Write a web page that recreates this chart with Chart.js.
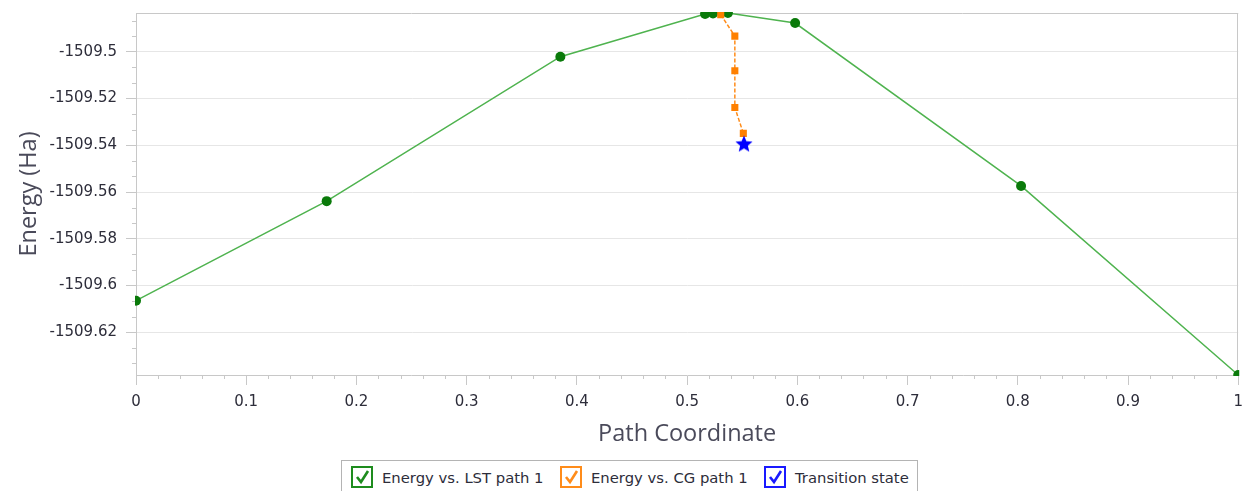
<!DOCTYPE html>
<html>
<head>
<meta charset="utf-8">
<script src="https://cdn.jsdelivr.net/npm/chart.js@4.4.0/dist/chart.umd.min.js"></script>
<style>
    body { margin: 0; background: #fff; }
    #wrap { position: relative; width: 1243px; height: 491px; overflow: hidden; }
    #legend { position: absolute; left: 341px; top: 460px; width: 575px; height: 40px; border: 1px solid #b4b4b4; background: #fff; }
    .item { position: absolute; top: 5px; height: 22px; display: flex; align-items: center; font-family: "DejaVu Sans", sans-serif; font-size: 14.8px; color: #2d2d3a; white-space: nowrap; }
    .box { width: 18px; height: 18px; border: 2px solid; margin-right: 9px; background: #fff; }
    .box svg { display: block; }
</style>
</head>
<body>
<div id="wrap">
    <canvas id="energyChart" width="1251" height="491"></canvas>
    <div id="legend"></div>
</div>
<script>
// LST path
const lstX = [0, 0.173, 0.385, 0.5163, 0.5235, 0.537, 0.598, 0.803, 1];
const lstE = [-1509.6065, -1509.5639, -1509.5021, -1509.4838, -1509.4836, -1509.4834, -1509.4877, -1509.5574, -1509.6383];
// CG path
const cgX = [0.5305, 0.5433, 0.5433, 0.5433, 0.551];
const cgE = [-1509.4841, -1509.4933, -1509.5081, -1509.5238, -1509.5349];
// transition state
const tsX = [0.5516];
const tsE = [-1509.5392];

const xTicks = [0, 0.1, 0.2, 0.3, 0.4, 0.5, 0.6, 0.7, 0.8, 0.9, 1];
const yTicks = [-1509.62, -1509.6, -1509.58, -1509.56, -1509.54, -1509.52, -1509.5];

const legendItems = [
    { label: 'Energy vs. LST path 1', color: '#1e8c1e', left: 9 },
    { label: 'Energy vs. CG path 1', color: '#ff8c1a', left: 218 },
    { label: 'Transition state', color: '#1a1aff', left: 422 }
];

function toPoints(xs, ys) { return xs.map((x, i) => ({ x: x, y: ys[i] })); }

function starImage(size, color) {
    const c = document.createElement('canvas');
    c.width = size; c.height = size;
    const g = c.getContext('2d');
    const cx = size / 2, cy = size / 2 + 1, R = size / 2, r = R * 0.45;
    g.beginPath();
    for (let i = 0; i < 10; i++) {
        const a = -Math.PI / 2 + i * Math.PI / 5;
        const rad = i % 2 ? r : R;
        g.lineTo(cx + rad * Math.cos(a), cy + rad * Math.sin(a));
    }
    g.closePath();
    g.fillStyle = color;
    g.fill();
    return c;
}

const fmt = v => String(Number(v.toFixed(3)));

// minor ticks + frame round the plot
const minorTicks = {
    id: 'minorTicks',
    beforeDatasetsDraw(chart) {
        const ctx = chart.ctx, a = chart.chartArea;
        const xs = chart.scales.x, ys = chart.scales.y;
        ctx.save();
        ctx.strokeStyle = '#c8c8c8';
        ctx.lineWidth = 1;
        ctx.beginPath();
        ctx.moveTo(a.left, Math.round(a.top) + 0.5);
        ctx.lineTo(a.right, Math.round(a.top) + 0.5);
        ctx.moveTo(Math.round(a.right) - 0.5, a.top);
        ctx.lineTo(Math.round(a.right) - 0.5, a.bottom);
        for (let t = 0; t < xTicks.length - 1; t++) {
            for (let i = 1; i < 5; i++) {
                const px = Math.round(xs.getPixelForValue(xTicks[t] + i * 0.02)) + 0.5;
                ctx.moveTo(px, a.bottom);
                ctx.lineTo(px, a.bottom + 4);
            }
        }
        const ext = [yTicks[0] - 0.02].concat(yTicks);
        ext.forEach(t => {
            for (let i = 1; i < 3; i++) {
                const v = t + i * 0.02 / 3;
                if (v < ys.min || v > ys.max) continue;
                const py = Math.round(ys.getPixelForValue(v)) + 0.5;
                ctx.moveTo(a.left - 4, py);
                ctx.lineTo(a.left, py);
            }
        });
        ctx.stroke();
        ctx.restore();
    }
};

const ctx = document.getElementById('energyChart').getContext('2d');
const energyChart = new Chart(ctx, {
    type: 'scatter',
    data: {
        datasets: [
            { label: 'Energy vs. LST path 1', data: toPoints(lstX, lstE), showLine: true, clip: 1, borderColor: '#4fb34f', borderWidth: 1.5, pointBackgroundColor: '#0a7a0a', pointBorderColor: '#0a7a0a', pointRadius: 5, pointBorderWidth: 0, order: 3 },
            { label: 'Energy vs. CG path 1', data: toPoints(cgX, cgE), showLine: true, clip: 1, borderColor: '#ff8c1a', borderWidth: 1.5, borderDash: [4, 2], pointStyle: 'rect', pointBackgroundColor: '#ff8000', pointBorderColor: '#ff8000', pointRadius: 5, pointBorderWidth: 0, order: 2 },
            { label: 'Transition state', data: toPoints(tsX, tsE), pointStyle: starImage(18, '#0000ff'), pointRadius: 9, order: 1 }
        ]
    },
    options: {
        responsive: false,
        animation: false,
        layout: { padding: { top: 13, right: 3, left: 11, bottom: 39 } },
        plugins: { legend: { display: false }, tooltip: { enabled: false } },
        scales: {
            x: {
                type: 'linear', min: 0, max: 1,
                afterBuildTicks: s => { s.ticks = xTicks.map(v => ({ value: v })); },
                afterFit: s => { s.height = 77; },
                border: { color: '#c8c8c8' },
                grid: { drawOnChartArea: false, tickLength: 10, tickColor: '#c8c8c8' },
                ticks: { padding: 8, maxRotation: 0, autoSkip: false, color: '#2d2d3a', font: { family: 'DejaVu Sans', size: 15 }, callback: fmt },
                title: { display: true, text: 'Path Coordinate', color: '#4a4a5a', font: { family: 'Open Sans', size: 23.5 } }
            },
            y: {
                bounds: 'data',
                afterBuildTicks: s => { s.ticks = yTicks.map(v => ({ value: v })); },
                afterFit: s => { s.width = 125; s.paddingTop = 0; s.paddingBottom = 0; },
                border: { color: '#c8c8c8' },
                grid: { color: '#e6e6e6', tickLength: 10, tickColor: '#c8c8c8' },
                ticks: { padding: 9, autoSkip: false, color: '#2d2d3a', font: { family: 'DejaVu Sans', size: 15 }, callback: fmt },
                title: { display: true, text: 'Energy (Ha)', color: '#4a4a5a', font: { family: 'Open Sans', size: 23.5 } }
            }
        }
    },
    plugins: [minorTicks]
});

const legend = document.getElementById('legend');
legendItems.forEach(it => {
    const d = document.createElement('div');
    d.className = 'item';
    d.style.left = it.left + 'px';
    d.innerHTML = '<span class="box" style="border-color:' + it.color + '"><svg width="18" height="18"><polyline points="4,9 8,14 15,3" fill="none" stroke="' + it.color + '" stroke-width="2.6"/></svg></span><span>' + it.label + '</span>';
    legend.appendChild(d);
});
</script>
</body>
</html>
